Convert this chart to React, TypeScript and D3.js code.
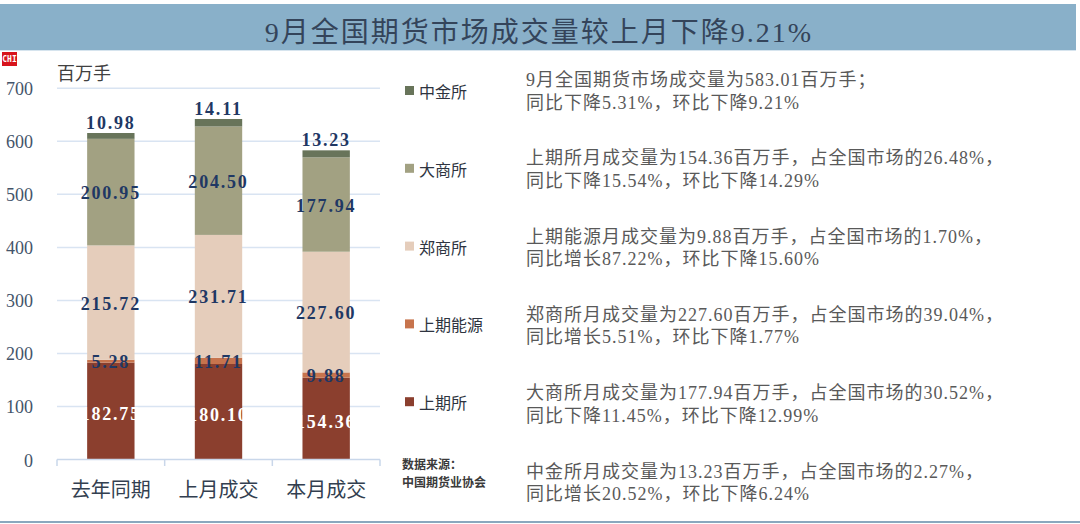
import React, { useEffect, useRef } from "react";
import * as d3 from "d3";

const categories = ["去年同期", "上月成交", "本月成交"];
const exchanges = ["上期所", "上期能源", "郑商所", "大商所", "中金所"];
const shfe = [182.75, 180.1, 154.36];
const ine = [5.28, 11.71, 9.88];
const czce = [215.72, 231.71, 227.6];
const dce = [200.95, 204.5, 177.94];
const cffex = [10.98, 14.11, 13.23];
const yTicks = [0, 100, 200, 300, 400, 500, 600, 700];

const notes = [
    ["9月全国期货市场成交量为583.01百万手；", "同比下降5.31%，环比下降9.21%"],
    ["上期所月成交量为154.36百万手，占全国市场的26.48%，", "同比下降15.54%，环比下降14.29%"],
    ["上期能源月成交量为9.88百万手，占全国市场的1.70%，", "同比增长87.22%，环比下降15.60%"],
    ["郑商所月成交量为227.60百万手，占全国市场的39.04%，", "同比增长5.51%，环比下降1.77%"],
    ["大商所月成交量为177.94百万手，占全国市场的30.52%，", "同比下降11.45%，环比下降12.99%"],
    ["中金所月成交量为13.23百万手，占全国市场的2.27%，", "同比增长20.52%，环比下降6.24%"],
];

const colors = ["#8b3f2e", "#c7744d", "#e5cdbb", "#a2a182", "#68745a"];

export default function App() {
    const svgRef = useRef(null);
    const width = 1080;
    const height = 524;

    useEffect(() => {
        const svg = d3.select(svgRef.current);
        svg.selectAll("*").remove();

        const serif = "'Liberation Serif', 'Noto Sans CJK SC', serif";
        const sans = "'Noto Sans CJK SC', 'Noto Sans', sans-serif";

        // title band
        svg.append("rect").attr("x", 0).attr("y", 4).attr("width", 1076).attr("height", 46).attr("fill", "#89b0c9");
        svg.append("line").attr("x1", 0).attr("x2", 1076).attr("y1", 50.5).attr("y2", 50.5)
            .attr("stroke", "#d6e4ee").attr("stroke-width", 1);
        svg.append("text")
            .attr("x", 539).attr("y", 32)
            .attr("text-anchor", "middle").attr("dominant-baseline", "central")
            .style("font-family", serif).style("font-size", "28px").style("letter-spacing", "2px")
            .attr("fill", "#34445a")
            .text("9月全国期货市场成交量较上月下降9.21%");

        // logo
        svg.append("rect").attr("x", 2).attr("y", 52).attr("width", 15).attr("height", 14).attr("fill", "#d7141c");
        svg.append("text").attr("x", 9.5).attr("y", 59.5)
            .attr("text-anchor", "middle").attr("dominant-baseline", "central")
            .style("font-family", "'DejaVu Sans Mono', monospace").style("font-size", "8px").style("font-weight", "bold")
            .attr("fill", "#fff").text("CHI");

        // bottom rule
        svg.append("line").attr("x1", 0).attr("x2", width).attr("y1", 522).attr("y2", 522)
            .attr("stroke", "#8aa8be").attr("stroke-width", 2);

        // scales
        const x = d3.scaleBand().domain(categories).range([57, 380]).paddingInner(0.56).paddingOuter(0.28);
        const y = d3.scaleLinear().domain([0, 700]).range([459.5, 88.3]);

        // grid
        svg.append("g").selectAll("line")
            .data(yTicks.filter(t => t > 0))
            .join("line")
            .attr("x1", 57).attr("x2", 380)
            .attr("y1", d => y(d)).attr("y2", d => y(d))
            .attr("stroke", "#d9e4f2").attr("stroke-width", 1.5);

        // y labels
        svg.append("g").selectAll("text")
            .data(yTicks)
            .join("text")
            .attr("x", 33).attr("y", d => y(d) + 1)
            .attr("text-anchor", "end").attr("dominant-baseline", "central")
            .style("font-family", serif).style("font-size", "18px")
            .attr("fill", "#44546a")
            .text(d => d);

        svg.append("text").attr("x", 57).attr("y", 72)
            .attr("dominant-baseline", "central")
            .style("font-family", sans).style("font-size", "18px")
            .attr("fill", "#404040").text("百万手");

        // stacked bars
        const table = categories.map((c, i) => ({
            cat: c,
            "上期所": shfe[i],
            "上期能源": ine[i],
            "郑商所": czce[i],
            "大商所": dce[i],
            "中金所": cffex[i],
        }));
        const series = d3.stack().keys(exchanges)(table);

        series.forEach((s, k) => {
            svg.append("g").selectAll("rect")
                .data(s)
                .join("rect")
                .attr("x", d => x(d.data.cat))
                .attr("width", x.bandwidth())
                .attr("y", d => y(d[1]))
                .attr("height", d => y(d[0]) - y(d[1]))
                .attr("fill", colors[k]);
        });

        // x axis
        svg.append("line").attr("x1", 57).attr("x2", 380).attr("y1", 459.5).attr("y2", 459.5)
            .attr("stroke", "#c9d7ea").attr("stroke-width", 1.5);
        const step = x.step();
        svg.append("g").selectAll("line")
            .data(d3.range(categories.length + 1))
            .join("line")
            .attr("x1", i => 57 + i * step).attr("x2", i => 57 + i * step)
            .attr("y1", 459.5).attr("y2", 466)
            .attr("stroke", "#c9d7ea").attr("stroke-width", 1.5);

        svg.append("g").selectAll("text")
            .data(categories)
            .join("text")
            .attr("x", d => x(d) + x.bandwidth() / 2).attr("y", 488)
            .attr("text-anchor", "middle").attr("dominant-baseline", "central")
            .style("font-family", sans).style("font-size", "20px")
            .attr("fill", "#333f50")
            .text(d => d);

        // value labels
        series.forEach((s, k) => {
            const top = k === exchanges.length - 1;
            svg.append("g").selectAll("text")
                .data(s)
                .join("text")
                .attr("x", d => x(d.data.cat) + x.bandwidth() / 2)
                .attr("y", d => top ? y(d[1]) - 10 : (y(d[0]) + y(d[1])) / 2 + (k === 0 ? 3 : 1))
                .attr("text-anchor", "middle").attr("dominant-baseline", "central")
                .style("font-family", serif).style("font-size", "18px").style("font-weight", "bold")
                .style("letter-spacing", "1.8px")
                .attr("fill", k === 0 ? "#ffffff" : "#1f3864")
                .text(d => (d[1] - d[0]).toFixed(2));
        });

        // legend
        const legendKeys = exchanges.slice().reverse();
        const legend = svg.append("g").selectAll("g")
            .data(legendKeys)
            .join("g")
            .attr("transform", (d, i) => `translate(405,${91 + i * 77.8})`);
        legend.append("rect").attr("x", 0).attr("y", -5).attr("width", 9).attr("height", 9)
            .attr("fill", d => colors[exchanges.indexOf(d)]);
        legend.append("text").attr("x", 14).attr("y", 0)
            .attr("dominant-baseline", "central")
            .style("font-family", sans).style("font-size", "16px")
            .attr("fill", "#2e3440")
            .text(d => d);

        // source
        svg.append("text").attr("x", 402).attr("y", 463).attr("dominant-baseline", "central")
            .style("font-family", sans).style("font-size", "12px").style("font-weight", "bold")
            .attr("fill", "#3a3a3a").text("数据来源：");
        svg.append("text").attr("x", 402).attr("y", 481).attr("dominant-baseline", "central")
            .style("font-family", sans).style("font-size", "12px").style("font-weight", "bold")
            .attr("fill", "#3a3a3a").text("中国期货业协会");

        // notes
        const noteG = svg.append("g").selectAll("text")
            .data(notes)
            .join("text")
            .style("font-family", serif).style("font-size", "18px").style("letter-spacing", "1px")
            .attr("fill", "#595959");
        noteG.selectAll("tspan")
            .data((d, i) => d.map((line, j) => ({ line, y: 80 + i * 78.3 + j * 22.5 })))
            .join("tspan")
            .attr("x", 526)
            .attr("y", d => d.y)
            .attr("dominant-baseline", "central")
            .text(d => d.line);
    }, []);

    return (
        <svg
            ref={svgRef}
            width={width}
            height={height}
            style={{ position: "absolute", left: 0, top: 0, background: "#fff" }}
        />
    );
}
